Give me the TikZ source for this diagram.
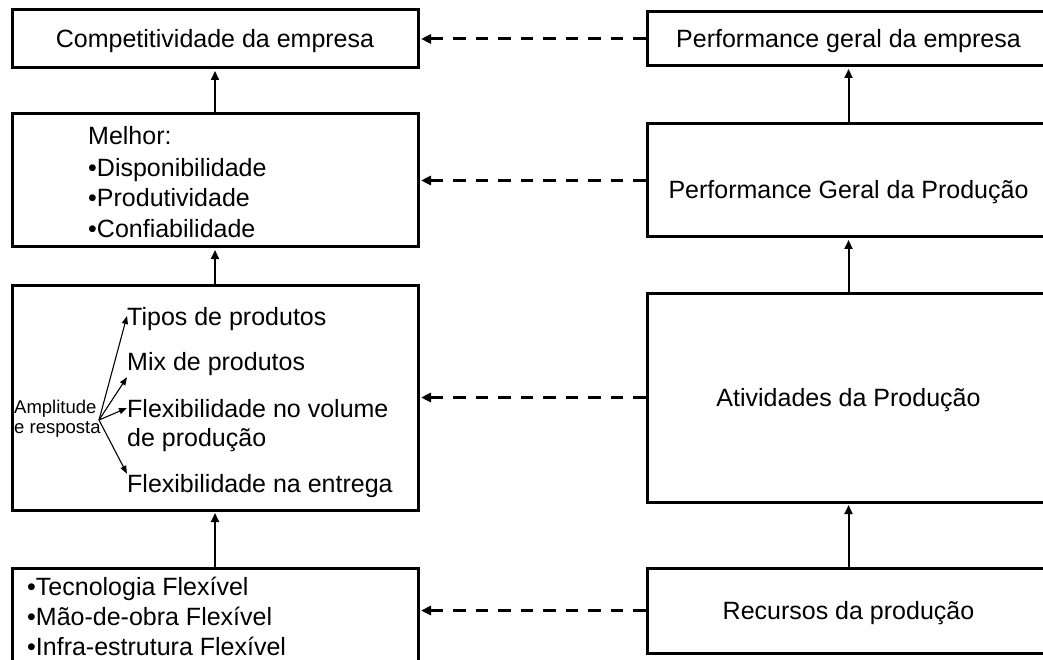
\documentclass[tikz,border=0pt]{standalone}
\usepackage{fontspec}
\setmainfont{Liberation Sans}
\usetikzlibrary{arrows.meta, positioning}

\begin{document}
\begin{tikzpicture}[x=1pt, y=-1pt]
  \tikzstyle{box} = [rectangle, draw, line width=3pt, inner sep=0pt, text height=18pt, text depth=0pt, font=\fontsize{25}{30}\selectfont]
  \tikzstyle{lbox} = [box, minimum width=406pt]
  \tikzstyle{rbox} = [box, minimum width=403pt]
  \tikzstyle{txt} = [anchor=base west, inner sep=0pt, text height=18pt, text depth=0pt, font=\fontsize{25}{30}\selectfont]
  \tikzstyle{small} = [anchor=base west, inner sep=0pt, font=\fontsize{18.5}{22}\selectfont]
  \tikzstyle{flow} = [-{Triangle[length=9pt, width=8pt]}, line width=2pt, shorten >=1.5pt]
  \tikzstyle{link} = [-{Triangle[length=10pt, width=9pt]}, line width=3pt, dash pattern=on 12.5pt off 10pt, shorten >=1.5pt]
  \tikzstyle{branch} = [-{Triangle[length=8pt, width=6pt]}, line width=1.1pt]

  \useasboundingbox (0,0) rectangle (1043,660);
  \clip (0,0) rectangle (1043,660);
  \fill[white] (0,0) rectangle (1043,660);

  % Left column
  \node (comp) [lbox, minimum height=58pt] at (215,39) {Competitividade da empresa};
  \node (melhor) [lbox, minimum height=133pt] at (215,180.5) {};
  \node (flex) [lbox, minimum height=225pt] at (215,397.5) {};
  \node (meios) [lbox, minimum height=132pt] at (215,634) {};

  % Right column
  \node (pemp) [rbox, minimum height=54pt] at (848.5,39) {Performance geral da empresa};
  \node (pprod) [rbox, minimum height=113pt] at (848.5,180.5) {};
  \node (ativ) [rbox, minimum height=209pt] at (848.5,397.5) {Atividades da Produção};
  \node (rec) [rbox, minimum height=85pt] at (848.5,610.5) {Recursos da produção};
  \node (pprodT) [txt, anchor=base] at (848.5,199) {Performance Geral da Produção};

  % Texts in the left boxes
  \node (melhorT) [txt] at (88,145) {Melhor:};
  \node (disp) [txt] at (88,177) {•Disponibilidade};
  \node (produt) [txt] at (88,207) {•Produtividade};
  \node (conf) [txt] at (88,237) {•Confiabilidade};

  \node (tipos) [txt] at (127,325) {Tipos de produtos};
  \node (mix) [txt] at (127,370) {Mix de produtos};
  \node (vol) [txt] at (127,417) {Flexibilidade no volume};
  \node (vol2) [txt] at (127,446) {de produção};
  \node (entrega) [txt] at (127,492) {Flexibilidade na entrega};
  \node (ampl) [small] at (14,413) {Amplitude};
  \node (resp) [small] at (14,433) {e resposta};

  \node (tec) [txt] at (27,595) {•Tecnologia Flexível};
  \node (mao) [txt] at (27,625) {•Mão-de-obra Flexível};
  \node (infra) [txt] at (27,655) {•Infra-estrutura Flexível};

  % Branch arrows
  \coordinate (hub) at (99,420);
  \draw [branch] (hub) -- (tipos.west);
  \draw [branch] (hub) -- ([yshift=-7pt]mix.south west);
  \draw [branch] (hub) -- (vol.west);
  \draw [branch] (hub) -- (entrega.north west);

  % Arrows
  \draw [flow] (melhor.north) -- (comp.south);
  \draw [flow] (flex.north) -- (melhor.south);
  \draw [flow] (meios.north) -- (flex.south);
  \draw [flow] (pprod.north) -- (pemp.south);
  \draw [flow] (ativ.north) -- (pprod.south);
  \draw [flow] (rec.north) -- (ativ.south);

  % Dashed links
  \draw [link] (pemp.west) -- (comp.east);
  \draw [link] (pprod.west) -- (melhor.east);
  \draw [link] (ativ.west) -- (flex.east);
  \draw [link] (rec.west) -- (rec.west -| meios.east);
\end{tikzpicture}
\end{document}
